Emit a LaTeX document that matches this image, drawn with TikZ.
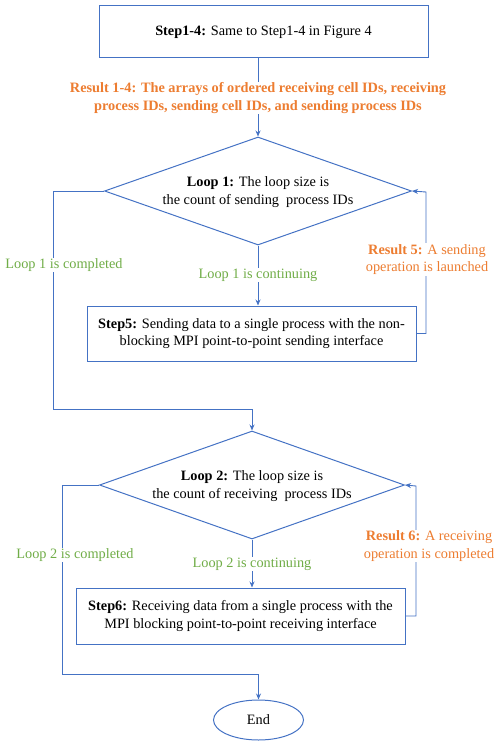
\documentclass[tikz,border=0pt]{standalone}
\usepackage{fontspec}
\setmainfont{LiberationSerif}[Extension=.ttf,UprightFont=*-Regular,BoldFont=*-Bold,ItalicFont=*-Italic,BoldItalicFont=*-BoldItalic]
\usetikzlibrary{shapes.geometric,arrows.meta}
\definecolor{lblue}{HTML}{4472C4}
\definecolor{lorange}{HTML}{ED7D31}
\definecolor{lgreen}{HTML}{70AD47}
\begin{document}
\begin{tikzpicture}[x=1pt,y=-1pt,
  font=\fontsize{14.3}{17.5}\selectfont,
  box/.style={draw=lblue,line width=1pt,rectangle,inner sep=0pt,align=center},
  dia/.style={draw=lblue,line width=1pt,diamond,inner sep=0pt,aspect=2.85},
  conn/.style={draw=lblue,line width=0.9pt},
  arr/.style={conn,-{Stealth[length=6pt,width=5pt]}},
  otxt/.style={text=lorange,fill=white,align=center,inner sep=1pt},
  gtxt/.style={text=lgreen,fill=white,align=center,inner sep=1pt},
  plain/.style={align=center,inner sep=0pt}]
\useasboundingbox (0,0) rectangle (500,746);

\node[box,minimum width=329,minimum height=52] (s14) at (263.5,32)
  {\textbf{Step1-4:} Same to Step1-4 in Figure 4};

\node[dia,minimum width=307,minimum height=108] (d1) at (258,191) {};
\node[plain] (t1) at (258,192) {\textbf{Loop 1:} The loop size is\\the count of sending\ \ process IDs};

\node[box,minimum width=329,minimum height=55] (s5) at (251.5,333.5)
  {\textbf{Step5:} Sending data to a single process with the non-\\blocking MPI point-to-point sending interface};

\node[dia,minimum width=305,minimum height=108] (d2) at (252,485) {};
\node[plain] (t2) at (252,486) {\textbf{Loop 2:} The loop size is\\the count of receiving\ \ process IDs};

\node[box,minimum width=329,minimum height=56] (s6) at (240.5,616)
  {\textbf{Step6:} Receiving data from a single process with the\\MPI blocking point-to-point receiving interface};

\node[draw=lblue,line width=1pt,ellipse,minimum width=90,minimum height=40,inner sep=0pt] (end) at (258.5,720) {End};

\coordinate (c1) at (53,409);
\coordinate (c2) at (426,192);
\coordinate (c3) at (62,674);
\coordinate (c4) at (416,486);

% top arrow with result 1-4
\draw[arr] (s14.south -| d1.north) -- (d1.north);
\node[otxt] (r14) at (258,98) {\textbf{Result 1-4: The arrays of ordered receiving cell IDs, receiving}\\\textbf{process IDs, sending cell IDs, and sending process IDs}};

% loop 1
\draw[arr] (d1.south) -- (d1.south |- s5.north);
\node[gtxt] (l1c) at (258,275) {Loop 1 is continuing};
\draw[arr] (s5.east) -| (c2) -- (d1.east);
\node[otxt] (r5) at (427,259.5) {\textbf{Result 5:} A sending\\operation is launched};
\draw[arr] (d1.west) -| (c1) -| (d2.north);
\node[gtxt] (l1d) at (64,265) {Loop 1 is completed};

% loop 2
\draw[arr] (d2.south) -- (d2.south |- s6.north);
\node[gtxt] (l2c) at (252,564) {Loop 2 is continuing};
\draw[arr] (s6.east) -| (c4) -- (d2.east);
\node[otxt] (r6) at (429,546) {\textbf{Result 6:} A receiving\\operation is completed};
\draw[arr] (d2.west) -| (c3) -| (end.north);
\node[gtxt] (l2d) at (75,555) {Loop 2 is completed};
\end{tikzpicture}
\end{document}
